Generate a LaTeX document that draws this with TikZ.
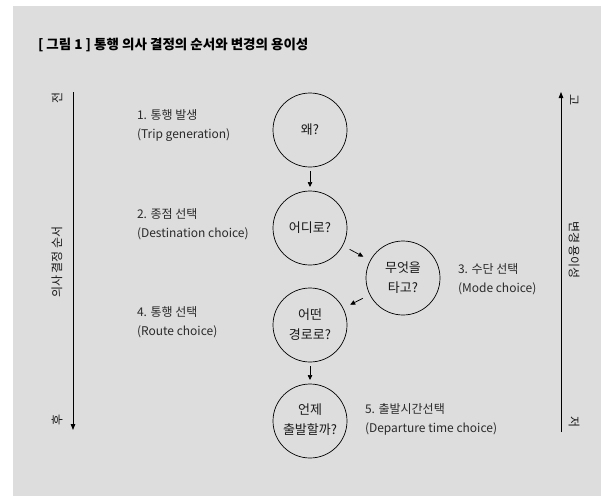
\documentclass[tikz,border=0pt]{standalone}
\usepackage{fontspec}
\setmainfont{Noto Sans CJK KR}
\usetikzlibrary{arrows.meta}
\definecolor{bggray}{HTML}{DCDDDC}
\definecolor{labelc}{HTML}{2A2A2A}
\begin{document}
\begin{tikzpicture}[x=1pt,y=-1pt,
  every node/.style={inner sep=0pt, outer sep=0pt},
  stage/.style={circle, draw=black, line width=0.7pt, minimum size=74pt, align=center, font=\fontsize{13}{20}\selectfont, text=black!90},
  lbl/.style={anchor=west, align=left, font=\fontsize{12}{19}\selectfont, text=labelc},
  axlbl/.style={font=\fontsize{12}{12}\selectfont, text=black!90},
  arr/.style={-{Triangle[length=5pt,width=4.5pt]}, line width=0.7pt},
  axis/.style={-{Triangle[length=6pt,width=4.5pt]}, line width=0.8pt}
]
\useasboundingbox (0,0) rectangle (601,496);
\fill[bggray] (13,6) rectangle (601,496);

\node[anchor=west, font=\fontsize{13.5}{15}\bfseries\selectfont, text=black] (title) at (38,45) {[ 그림 1 ] 통행 의사 결정의 순서와 변경의 용이성};

% left axis
\coordinate (ltop) at (73,92);
\coordinate (lbot) at (73,430);
\draw[axis] (ltop) -- (lbot);
\node[axlbl, rotate=90] (jeon) at (57,98) {전};
\node[axlbl, rotate=90] (order) at (57,262) {의사 결정 순서};
\node[axlbl, rotate=90] (hu) at (57,420) {후};

% right axis
\coordinate (rtop) at (561,92);
\coordinate (rbot) at (561,432);
\draw[axis] (rbot) -- (rtop);
\node[axlbl, rotate=-90] (go) at (574,100) {고};
\node[axlbl, rotate=-90] (ease) at (574,250) {변경 용이성};
\node[axlbl, rotate=-90] (jeo) at (574,422) {저};

% stages
\node[stage] (s1) at (310,130) {왜?};
\node[stage] (s2) at (310,228) {어디로?};
\node[stage] (s3) at (403,278) {무엇을\\타고?};
\node[stage] (s4) at (310,325) {어떤\\경로로?};
\node[stage] (s5) at (310,421) {};
\node[fill=bggray, inner ysep=0pt, inner xsep=1pt, align=center, font=\fontsize{13}{20}\selectfont, text=black!90] (s5t) at ([yshift=1pt]s5) {언제\\출발할까?};

% arrows
\draw[arr, shorten <=4pt, shorten >=4pt] (s1) -- (s2);
\draw[arr, shorten <=8pt, shorten >=8pt] (s2) -- (s3);
\draw[arr, shorten <=8pt, shorten >=8pt] (s3) -- (s4);
\draw[arr, shorten <=4pt, shorten >=4pt] (s4) -- (s5);

% labels
\node[lbl] (l1) at (137,126) {1. 통행 발생\\(Trip generation)};
\node[lbl] (l2) at (137,224) {2. 종점 선택\\(Destination choice)};
\node[lbl] (l3) at (458,279) {3. 수단 선택\\(Mode choice)};
\node[lbl] (l4) at (137,322) {4. 통행 선택\\(Route choice)};
\node[lbl] (l5) at (365,419) {5. 출발시간선택\\(Departure time choice)};
\end{tikzpicture}
\end{document}
